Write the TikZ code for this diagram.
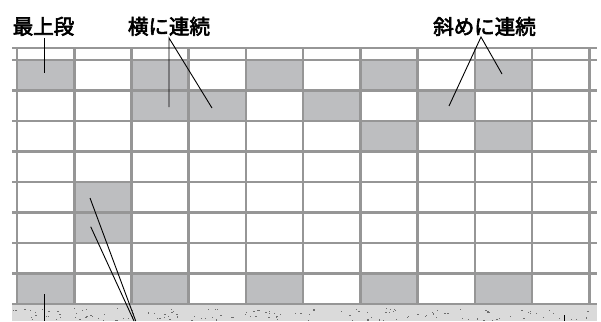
\documentclass[tikz,border=0pt]{standalone}
\usepackage{fontspec}
\newfontfamily\jp[FakeBold=3]{Noto Sans CJK JP}
\definecolor{cellgray}{RGB}{189,190,192}
\definecolor{gridgray}{RGB}{150,150,150}
\definecolor{groundgray}{RGB}{218,218,218}
\definecolor{dotgray}{RGB}{110,110,110}
\tikzset{
  lbl/.style={inner sep=0pt, font=\jp\fontsize{20.5}{20.5}\selectfont},
  leader/.style={draw=black, line width=0.9pt},
  gridline/.style={draw=gridgray, line width=2.6pt},
  cellfill/.style={fill=cellgray},
}
\begin{document}
\begin{tikzpicture}[x=1pt,y=-1pt]
\useasboundingbox (0,0) rectangle (601,321);
\fill[white] (0,0) rectangle (601,321);
% gray cells (col,row)
\foreach \c/\r in {0/0,2/0,4/0,6/0,8/0, 2/1,3/1,5/1,7/1, 6/2,8/2, 1/4,1/5, 0/7,2/7,4/7,6/7,8/7}{
  \fill[cellfill] ({17+57.23*\c},{60+30.5*\r}) rectangle ({17+57.23*(\c+1)},{60+30.5*(\r+1)});
}
% grid lines
\draw[gridline] (12,48) -- (597,48);
\foreach \k in {0,...,7}{
  \draw[gridline] (12,{60+30.5*\k}) -- (597,{60+30.5*\k});
}
\foreach \c in {0,...,10}{
  \draw[gridline] ({17+57.23*\c},48) -- ({17+57.23*\c},305);
}
% ground
\fill[groundgray] (12,305) rectangle (597,321);
\draw[gridline] (12,304) -- (597,304);
\pgfmathsetseed{7}
\foreach \i in {1,...,140}{
  \pgfmathsetmacro{\dx}{13+582*rnd}
  \pgfmathsetmacro{\dy}{308+12*rnd}
  \fill[dotgray] (\dx,\dy) rectangle ++(1.3,1.1);
}
% labels
\node[lbl] (top) at (43.5,26.3) {最上段};
\node[lbl] (horiz) at (169,26.3) {横に連続};
\node[lbl] (diag) at (484.5,26.5) {斜めに連続};
% leader coordinates
\coordinate (topA) at (44.3,38);
\coordinate (topB) at (44.3,73);
\coordinate (hA) at (169,38);
\coordinate (hB) at (169,107);
\coordinate (hC) at (212,108);
\coordinate (dA) at (481,37);
\coordinate (dB) at (449,106);
\coordinate (dC) at (502,74);
\coordinate (b1A) at (44.3,294);
\coordinate (b1B) at (44.3,321);
\coordinate (b2A) at (90,198);
\coordinate (b2B) at (135.7,321);
\coordinate (b3A) at (90.7,226.7);
\coordinate (b3B) at (134,321);
\coordinate (b4A) at (564.3,315);
\coordinate (b4B) at (564.3,321);
\draw[leader] (topA) -- (topB);
\draw[leader] (hB) -- (hA) -- (hC);
\draw[leader] (dB) -- (dA) -- (dC);
\draw[leader] (b1A) -- (b1B);
\draw[leader] (b2A) -- (b2B);
\draw[leader] (b3A) -- (b3B);
\draw[leader] (b4A) -- (b4B);
\end{tikzpicture}
\end{document}
